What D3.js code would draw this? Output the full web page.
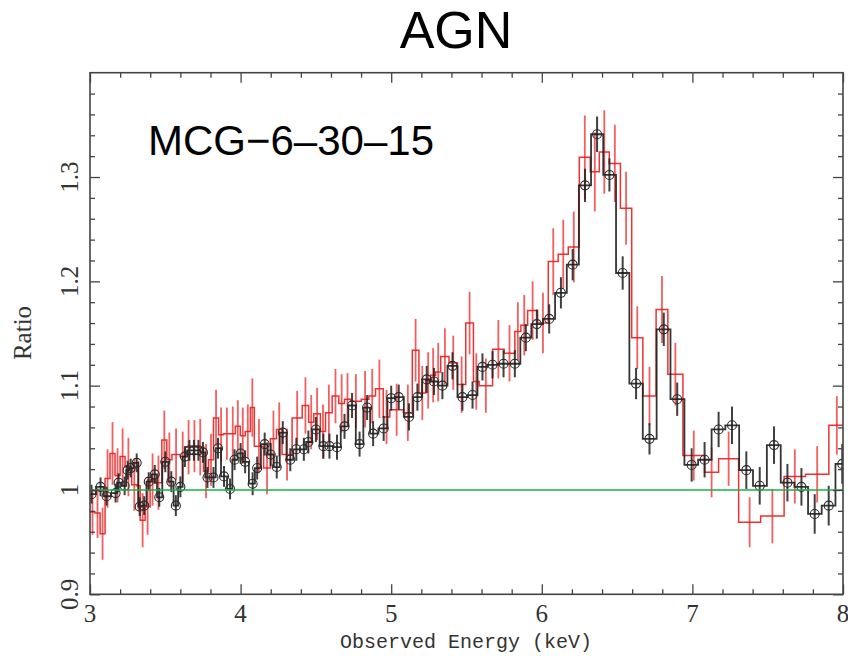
<!DOCTYPE html>
<html>
<head>
<meta charset="utf-8">
<script src="https://cdn.jsdelivr.net/npm/d3@7"></script>
<style>
  html, body { margin: 0; padding: 0; background: #fff; }
  svg { display: block; }
</style>
</head>
<body>
<svg id="chart" width="848" height="656"></svg>
<script>
// ---------- DATA ----------
const title = "AGN";
const sourceName = "MCG\u22126\u201330\u201315";
const xLabel = "Observed Energy (keV)";
const yLabel = "Ratio";
const xTickLabels = [3, 4, 5, 6, 7, 8];
const yTickLabels = [0.9, 1, 1.1, 1.2, 1.3];
const modelRatio = 1.0;

// Black data set: bin centre energies (keV), ratio, 1-sigma error
const blackEnergy = [
  3.01, 3.07, 3.11, 3.17, 3.19, 3.23, 3.25, 3.27, 3.31, 3.33,
  3.36, 3.39, 3.43, 3.46, 3.50, 3.54, 3.57, 3.60, 3.63, 3.66,
  3.69, 3.72, 3.75, 3.78, 3.82, 3.85, 3.89, 3.93, 3.96, 4.00,
  4.03, 4.08, 4.11, 4.16, 4.20, 4.24, 4.28, 4.33, 4.37, 4.42,
  4.45, 4.50, 4.55, 4.59, 4.64, 4.69, 4.74, 4.79, 4.84, 4.88,
  4.95, 5.00, 5.05, 5.118, 5.174, 5.236, 5.284, 5.340, 5.407, 5.473,
  5.540, 5.606, 5.673, 5.746, 5.821, 5.894, 5.967, 6.049, 6.127, 6.205,
  6.287, 6.367, 6.449, 6.537, 6.626, 6.715, 6.810, 6.899, 6.995, 7.081,
  7.174, 7.263, 7.358, 7.447, 7.542, 7.631, 7.724, 7.812, 7.905, 7.995
];
const blackRatio = [
  0.996, 1.003, 0.994, 0.997, 1.007, 1.004, 1.019, 1.021, 1.026, 0.984,
  0.985, 1.008, 1.015, 0.993, 1.027, 1.008, 0.985, 1.003, 1.032, 1.038,
  1.038, 1.038, 1.036, 1.012, 1.012, 1.040, 1.013, 1.001, 1.029, 1.035,
  1.027, 1.006, 1.021, 1.044, 1.034, 1.022, 1.055, 1.029, 1.039, 1.039,
  1.046, 1.058, 1.042, 1.042, 1.041, 1.061, 1.081, 1.044, 1.079, 1.054,
  1.059, 1.088, 1.089, 1.070, 1.089, 1.106, 1.104, 1.100, 1.119, 1.089,
  1.091, 1.118, 1.120, 1.121, 1.121, 1.146, 1.159, 1.164, 1.189, 1.216,
  1.292, 1.341, 1.302, 1.208, 1.102, 1.049, 1.154, 1.087, 1.024, 1.029,
  1.058, 1.062, 1.019, 1.004, 1.043, 1.007, 1.003, 0.977, 0.985, 1.025
];
const blackError = [
  0.009, 0.009, 0.009, 0.009, 0.009, 0.009, 0.009, 0.009, 0.009, 0.009,
  0.009, 0.009, 0.009, 0.009, 0.010, 0.010, 0.010, 0.010, 0.010, 0.010,
  0.010, 0.010, 0.010, 0.010, 0.010, 0.010, 0.010, 0.010, 0.010, 0.010,
  0.011, 0.011, 0.011, 0.011, 0.011, 0.011, 0.011, 0.011, 0.011, 0.011,
  0.011, 0.012, 0.012, 0.012, 0.012, 0.012, 0.012, 0.012, 0.012, 0.012,
  0.012, 0.012, 0.012, 0.013, 0.013, 0.013, 0.013, 0.013, 0.013, 0.013,
  0.013, 0.013, 0.013, 0.013, 0.013, 0.013, 0.014, 0.014, 0.015, 0.015,
  0.016, 0.017, 0.016, 0.016, 0.015, 0.015, 0.016, 0.016, 0.016, 0.017,
  0.017, 0.018, 0.018, 0.018, 0.018, 0.018, 0.018, 0.019, 0.019, 0.019
];

// Red data set: bin edges (keV), ratio per bin, 1-sigma error
const redEdges = [
  3.000, 3.033, 3.067, 3.100, 3.133, 3.166, 3.200, 3.233, 3.277, 3.311,
  3.333, 3.366, 3.399, 3.432, 3.477, 3.510, 3.544, 3.599, 3.632, 3.677,
  3.710, 3.754, 3.787, 3.820, 3.854, 3.887, 3.931, 3.965, 3.998, 4.031,
  4.065, 4.091, 4.153, 4.198, 4.238, 4.275, 4.342, 4.409, 4.452, 4.486,
  4.530, 4.564, 4.608, 4.652, 4.690, 4.730, 4.801, 4.852, 4.896, 4.947,
  4.991, 5.081, 5.140, 5.184, 5.229, 5.262, 5.295, 5.329, 5.384, 5.440,
  5.495, 5.546, 5.584, 5.673, 5.750, 5.821, 5.861, 5.906, 5.972, 6.043,
  6.109, 6.176, 6.249, 6.322, 6.382, 6.448, 6.522, 6.597, 6.671, 6.759,
  6.837, 6.937, 7.081, 7.174, 7.307, 7.453, 7.609, 7.751, 7.906, 8.012
];
const redRatio = [
  0.979, 0.978, 0.958, 1.011, 1.035, 1.014, 1.032, 1.022, 1.005, 1.004,
  0.971, 0.984, 1.010, 1.007, 1.048, 1.029, 1.034, 1.032, 1.041, 1.042,
  1.041, 1.018, 1.029, 1.069, 1.053, 1.054, 1.054, 1.061, 1.052, 1.056,
  1.079, 1.042, 1.021, 1.049, 1.058, 1.034, 1.069, 1.081, 1.065, 1.073,
  1.056, 1.074, 1.090, 1.083, 1.087, 1.085, 1.087, 1.090, 1.097, 1.070,
  1.077, 1.074, 1.134, 1.093, 1.105, 1.110, 1.113, 1.128, 1.122, 1.101,
  1.160, 1.104, 1.100, 1.135, 1.131, 1.152, 1.158, 1.172, 1.160, 1.219,
  1.226, 1.233, 1.319, 1.305, 1.324, 1.313, 1.270, 1.146, 1.090, 1.173,
  1.111, 1.033, 1.017, 1.030, 0.969, 0.975, 1.013, 1.015, 1.062
];
const redError = [
  0.022, 0.024, 0.025, 0.028, 0.030, 0.026, 0.027, 0.028, 0.025, 0.024,
  0.026, 0.027, 0.025, 0.026, 0.028, 0.026, 0.025, 0.024, 0.026, 0.025,
  0.027, 0.026, 0.025, 0.027, 0.026, 0.025, 0.026, 0.025, 0.027, 0.026,
  0.028, 0.026, 0.025, 0.027, 0.026, 0.025, 0.026, 0.027, 0.026, 0.025,
  0.026, 0.027, 0.026, 0.028, 0.025, 0.026, 0.027, 0.026, 0.028, 0.026,
  0.025, 0.027, 0.030, 0.026, 0.027, 0.026, 0.028, 0.027, 0.026, 0.027,
  0.030, 0.027, 0.026, 0.028, 0.027, 0.028, 0.029, 0.028, 0.029, 0.032,
  0.033, 0.034, 0.040, 0.038, 0.040, 0.037, 0.035, 0.030, 0.028, 0.032,
  0.030, 0.024, 0.024, 0.026, 0.024, 0.026, 0.026, 0.027, 0.028
];

// ---------- CHART ----------
const svg = d3.select("#chart");
const plot = { left: 90, right: 843, top: 72.7, bottom: 594.3 };

const x = d3.scaleLinear().domain([3, 8]).range([plot.left, plot.right]);
const y = d3.scaleLinear().domain([0.9, 1.4]).range([plot.bottom, plot.top]);

const axisColor = "#444";
const serif = "'Liberation Serif', 'DejaVu Serif', serif";

svg.append("defs").append("clipPath").attr("id", "plotClip")
  .append("rect")
  .attr("x", plot.left).attr("y", plot.top)
  .attr("width", plot.right - plot.left).attr("height", plot.bottom - plot.top);

// Titles
svg.append("text")
  .attr("x", 456).attr("y", 48)
  .attr("text-anchor", "middle")
  .attr("font-family", "'Liberation Sans', Arial, sans-serif")
  .attr("font-size", 52)
  .attr("fill", "#000")
  .text(title);

const data = svg.append("g").attr("clip-path", "url(#plotClip)");

// ---- red series ----
const redBins = redRatio.map((v, i) => ({ lo: redEdges[i], hi: redEdges[i + 1], v, e: redError[i] }));
const stepLine = d3.line().x(d => x(d[0])).y(d => y(d[1]));
const redPts = [];
redBins.forEach(b => { redPts.push([b.lo, b.v]); redPts.push([b.hi, b.v]); });

data.append("g").selectAll("line").data(redBins).join("line")
  .attr("x1", d => x((d.lo + d.hi) / 2)).attr("x2", d => x((d.lo + d.hi) / 2))
  .attr("y1", d => y(d.v - d.e)).attr("y2", d => y(d.v + d.e))
  .attr("stroke", "#ee2a2a").attr("stroke-opacity", 0.75).attr("stroke-width", 1.8);

data.append("path")
  .attr("d", stepLine(redPts))
  .attr("fill", "none").attr("stroke", "#ec1c1c").attr("stroke-opacity", 0.9).attr("stroke-width", 1.5);

// ---- black series ----
const blackBins = blackEnergy.map((c, i) => {
  const prev = i > 0 ? blackEnergy[i - 1] : c - (blackEnergy[1] - blackEnergy[0]);
  const next = i < blackEnergy.length - 1 ? blackEnergy[i + 1] : c + (c - blackEnergy[i - 1]);
  return { c, lo: (prev + c) / 2, hi: (c + next) / 2, v: blackRatio[i], e: blackError[i] };
});
const blackPts = [];
blackBins.forEach(b => { blackPts.push([b.lo, b.v]); blackPts.push([b.hi, b.v]); });

data.append("path")
  .attr("d", stepLine(blackPts))
  .attr("fill", "none").attr("stroke", "#1e1e1e").attr("stroke-opacity", 0.9).attr("stroke-width", 1.8);

data.append("g").selectAll("line").data(blackBins).join("line")
  .attr("x1", d => x(d.c)).attr("x2", d => x(d.c))
  .attr("y1", d => y(d.v - d.e)).attr("y2", d => y(d.v + d.e))
  .attr("stroke", "#1e1e1e").attr("stroke-opacity", 0.85).attr("stroke-width", 2);

data.append("g").selectAll("circle").data(blackBins).join("circle")
  .attr("cx", d => x(d.c)).attr("cy", d => y(d.v)).attr("r", 4.5)
  .attr("fill", "none").attr("stroke", "#2a2a2a").attr("stroke-width", 1.1);

// model line
data.append("line")
  .attr("x1", x(3)).attr("x2", x(8))
  .attr("y1", y(modelRatio)).attr("y2", y(modelRatio))
  .attr("stroke", "#18b04a").attr("stroke-width", 1.6);

// ---- axes (ticks inward on all sides) ----
const xMinor = d3.range(3, 8.0001, 0.2).filter(v => Math.abs(v - Math.round(v)) > 1e-6);
const yMinor = d3.range(0.9, 1.4001, 0.02).filter(v => Math.abs(v * 10 - Math.round(v * 10)) > 1e-6);

function styleAxis(g) {
  g.select(".domain").remove();
  g.selectAll(".tick line").attr("stroke", axisColor).attr("stroke-width", 1.3);
}

[[plot.bottom, d3.axisBottom], [plot.top, d3.axisTop]].forEach(([yy, gen]) => {
  svg.append("g").attr("transform", `translate(0,${yy})`)
    .call(gen(x).tickValues(xMinor).tickSize(-5).tickFormat(""))
    .call(styleAxis);
  svg.append("g").attr("transform", `translate(0,${yy})`)
    .call(gen(x).tickValues(xTickLabels).tickSize(-10).tickFormat(""))
    .call(styleAxis);
});
[[plot.left, d3.axisLeft], [plot.right, d3.axisRight]].forEach(([xx, gen]) => {
  svg.append("g").attr("transform", `translate(${xx},0)`)
    .call(gen(y).tickValues(yMinor).tickSize(-5).tickFormat(""))
    .call(styleAxis);
  svg.append("g").attr("transform", `translate(${xx},0)`)
    .call(gen(y).tickValues(yTickLabels).tickSize(-10).tickFormat(""))
    .call(styleAxis);
});

// frame
svg.append("rect")
  .attr("x", plot.left).attr("y", plot.top)
  .attr("width", plot.right - plot.left).attr("height", plot.bottom - plot.top)
  .attr("fill", "none").attr("stroke", axisColor).attr("stroke-width", 1.6);

// tick labels
svg.append("g").selectAll("text").data(xTickLabels).join("text")
  .attr("x", d => x(d)).attr("y", 622)
  .attr("text-anchor", "middle")
  .attr("font-family", serif).attr("font-size", 25).attr("fill", "#333")
  .text(d => d);

svg.append("g").selectAll("text").data(yTickLabels).join("text")
  .attr("transform", d => `translate(78,${y(d)}) rotate(-90)`)
  .attr("text-anchor", "middle")
  .attr("font-family", serif).attr("font-size", 25).attr("fill", "#333")
  .text(d => d3.format("")(d));

// axis labels
svg.append("text")
  .attr("x", 466).attr("y", 648)
  .attr("text-anchor", "middle")
  .attr("font-family", "'Liberation Mono', 'DejaVu Sans Mono', monospace")
  .attr("font-size", 20).attr("fill", "#333")
  .text(xLabel);

svg.append("text")
  .attr("transform", `translate(31,333) rotate(-90)`)
  .attr("text-anchor", "middle")
  .attr("font-family", serif).attr("font-size", 25).attr("fill", "#333")
  .text(yLabel);

// source label
svg.append("text")
  .attr("x", 148).attr("y", 155)
  .attr("font-family", "'Liberation Sans', Arial, sans-serif")
  .attr("font-size", 42).attr("fill", "#000")
  .text(sourceName);
</script>
</body>
</html>
